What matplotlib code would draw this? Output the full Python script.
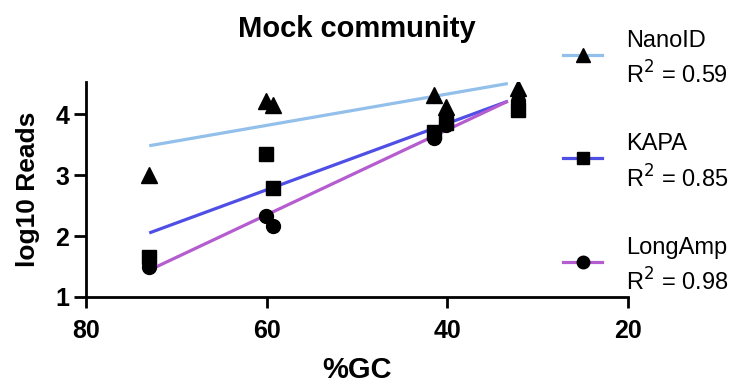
import matplotlib
matplotlib.use("Agg")
import matplotlib.pyplot as plt
from matplotlib.lines import Line2D

plt.rcParams['font.family'] = ['Liberation Sans', 'DejaVu Sans']

# data
gc = [73.0, 60.1, 59.3, 41.5, 40.1, 32.2]
nanoid = [3.00, 4.22, 4.15, 4.31, 4.12, 4.42]
kapa = [1.66, 3.34, 2.79, 3.71, 3.86, 4.07]
longamp = [1.50, 2.32, 2.16, 3.60, 3.82, 4.21]
# fitted lines (endpoints)
fit_x = [73.0, 33.3]
nanoid_fit = [3.48, 4.50]
kapa_fit = [2.05, 4.21]
longamp_fit = [1.44, 4.21]
series = ["NanoID", "KAPA", "LongAmp"]
r2 = ["0.59", "0.85", "0.98"]
colors = ['#93C0EA', '#4F4FE6', '#B45CD0']
markers = ['^', 's', 'o']
msizes = [11, 10, 10]

W, H = 738, 385
fig = plt.figure(figsize=(W/100, H/100), dpi=100)
ax = fig.add_axes([86/W, 1-297/H, (628-86)/W, (297-81.7)/H])

ys = [nanoid, kapa, longamp]
fits = [nanoid_fit, kapa_fit, longamp_fit]
for i in range(3):
    ax.plot(fit_x, fits[i], color=colors[i], lw=2.3, solid_capstyle='butt', zorder=2)
for i in range(3):
    ax.plot(gc, ys[i], linestyle='none', marker=markers[i], color='black',
            markersize=msizes[i], zorder=3)

ax.set_xlim(80, 20)
ax.set_ylim(1, 4.53)
ax.set_xticks([80, 60, 40, 20])
ax.set_yticks([1, 2, 3, 4])
for s in ['top', 'right']:
    ax.spines[s].set_visible(False)
for s in ['left', 'bottom']:
    ax.spines[s].set_linewidth(2.0)
ax.tick_params(axis='x', length=8, width=2.0, labelsize=18, pad=8)
ax.tick_params(axis='y', length=9, width=2.0, labelsize=18, pad=3)
for lab in ax.get_xticklabels() + ax.get_yticklabels():
    lab.set_fontweight('bold')
ax.set_ylabel('log10 Reads', fontsize=19, fontweight='bold', labelpad=11)

cx = (86 + 628) / 2 / W
fig.text(cx, 1-37/H, 'Mock community', fontsize=21, fontweight='bold',
         ha='center', va='baseline')
fig.text(cx, 1-378/H, '%GC', fontsize=21, fontweight='bold',
         ha='center', va='baseline')

# legend drawn manually
for i in range(3):
    base = 47 + 103.3 * i
    hy = 1 - (base + 8) / H
    fig.add_artist(Line2D([563/W, 602/W], [hy, hy], color=colors[i], lw=2.3,
                          transform=fig.transFigure))
    fig.add_artist(Line2D([582.5/W], [hy], marker=markers[i], color='black',
                          markersize=msizes[i]-1, linestyle='none',
                          transform=fig.transFigure))
    fig.text(626/W, 1-base/H, series[i], fontsize=17, ha='left', va='baseline')
    fig.text(626/W, 1-(base+37)/H, f"R$^2$ = {r2[i]}", fontsize=17,
             ha='left', va='baseline')

fig.savefig('out.png', dpi=100)
